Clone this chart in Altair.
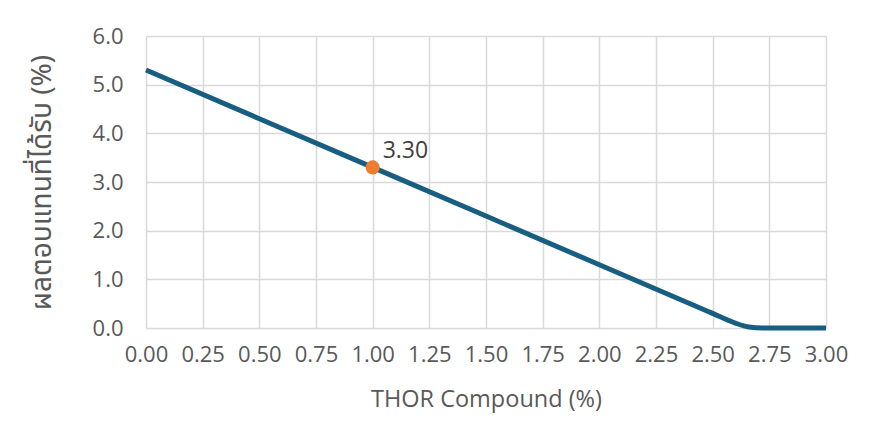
import altair as alt
import pandas as pd

x_vals = [0.0, 0.5, 1.0, 1.5, 2.0, 2.5, 2.6, 2.66, 2.72, 3.0]
y_vals = [5.3, 4.3, 3.3, 2.3, 1.3, 0.3, 0.1, 0.02, 0.0, 0.0]
pt_x = [1.0]
pt_y = [3.30]
pt_label = ["3.30"]

x_ticks = [0.0, 0.25, 0.5, 0.75, 1.0, 1.25, 1.5, 1.75, 2.0, 2.25, 2.5, 2.75, 3.0]
y_ticks = [0.0, 1.0, 2.0, 3.0, 4.0, 5.0, 6.0]

line_df = pd.DataFrame({"x": x_vals, "y": y_vals})
pt_df = pd.DataFrame({"x": pt_x, "y": pt_y, "label": pt_label})

FONT = "Open Sans"
THAI = "Noto Sans Thai, Noto Sans, Open Sans, sans-serif"

xs = alt.X("x:Q", scale=alt.Scale(domain=[0, 3], nice=False),
           axis=alt.Axis(values=x_ticks, format=".2f", title="THOR Compound (%)",
                         labelFontSize=22, titleFontSize=23.5, titlePadding=22,
                         labelPadding=16, labelOverlap=False, labelFlush=False))
ys = alt.Y("y:Q", scale=alt.Scale(domain=[0, 6], nice=False),
           axis=alt.Axis(values=y_ticks, format=".1f", title="ผลตอบแทนที่ได้รับ (%)",
                         labelFontSize=22, titleFontSize=28, titlePadding=36,
                         labelPadding=23, titleFont=THAI, labelOverlap=False,
                         labelFlush=False))

line = alt.Chart(line_df).mark_line(color="#175E80", strokeWidth=5,
                                    interpolate="monotone").encode(x=xs, y=ys)
pt = alt.Chart(pt_df).mark_circle(color="#ED7D31", opacity=1, size=200).encode(x="x:Q", y="y:Q")
txt = alt.Chart(pt_df).mark_text(align="left", baseline="bottom", dx=10, dy=-4,
                                 fontSize=23, font=FONT, color="#404040").encode(
    x="x:Q", y="y:Q", text="label:N")

chart = (line + pt + txt).properties(
    width=680, height=292,
    autosize=alt.AutoSizeParams(type="none"),
    padding={"left": 138, "top": 28, "right": 44, "bottom": 91},
    background="white",
).configure_view(stroke=None).configure_axis(
    grid=True, gridColor="#D9D9D9", gridWidth=1.5,
    domain=False, ticks=False,
    labelColor="#595959", titleColor="#595959",
    labelFont=FONT, titleFont=FONT, titleFontWeight="normal",
)

chart.save("out.html", embed_options={"renderer": "svg", "actions": False})
